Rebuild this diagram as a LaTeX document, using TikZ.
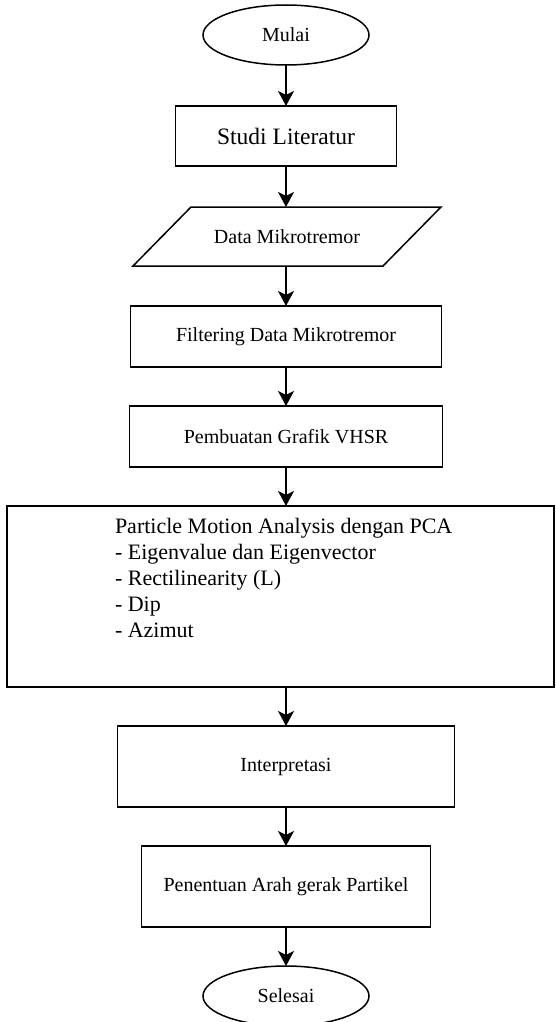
\documentclass[tikz,border=0pt]{standalone}
\usepackage{fontspec}
\setmainfont{Liberation Serif}
\usetikzlibrary{shapes.geometric,arrows.meta}
\begin{document}
\begin{tikzpicture}[x=1pt,y=-1pt,
  every node/.style={inner sep=0pt,outer sep=0pt},
  term/.style={ellipse,draw,line width=1.5pt,minimum width=166pt,minimum height=60pt,font=\fontsize{20}{24}\selectfont},
  procbox/.style={rectangle,draw,line width=1.5pt,font=\fontsize{20}{24}\selectfont},
  iobox/.style={rectangle,draw=none,minimum width=250pt,minimum height=59pt,font=\fontsize{20}{24}\selectfont},
  flow/.style={-{Stealth[length=15pt,width=16pt,inset=4pt]},line width=1.5pt}]
\useasboundingbox (0,0) rectangle (556,1022);
\node[term] (mulai) at (286,35) {Mulai};
\node[procbox,minimum width=221pt,minimum height=60pt,font=\fontsize{23.5}{28}\selectfont] (studi) at (286,136) {Studi Literatur};
\node[iobox] (data) at (287,236.5) {Data Mikrotremor};
\draw[line width=1.5pt] ([xshift=29pt]data.north west) -- ([xshift=29pt]data.north east)
  -- ([xshift=-29pt]data.south east) -- ([xshift=-29pt]data.south west) -- cycle;
\node[procbox,minimum width=311pt,minimum height=61pt] (filter) at (286,336.5) {Filtering Data Mikrotremor};
\node[procbox,minimum width=313pt,minimum height=61pt] (vhsr) at (286,436.5) {Pembuatan Grafik VHSR};
\node[procbox,minimum width=547pt,minimum height=181pt] (pma) at (280.5,596.5) {};
\node[anchor=north west,align=left,font=\fontsize{22}{26}\selectfont] (pmatext) at (115,518) {Particle Motion Analysis dengan PCA\\- Eigenvalue dan Eigenvector\\- Rectilinearity (L)\\- Dip\\- Azimut};
\node[procbox,minimum width=337pt,minimum height=81pt] (interp) at (286,766.5) {Interpretasi};
\node[procbox,minimum width=289pt,minimum height=81pt] (arah) at (286,886.5) {Penentuan Arah gerak Partikel};
\node[term] (selesai) at (286,996) {Selesai};
\draw[flow] (mulai) -- (studi);
\draw[flow] (studi) -- (studi |- data.north);
\draw[flow] (studi |- data.south) -- (filter);
\draw[flow] (filter) -- (vhsr);
\draw[flow] (vhsr) -- (vhsr |- pma.north);
\draw[flow] (vhsr |- pma.south) -- (interp);
\draw[flow] (interp) -- (arah);
\draw[flow] (arah) -- (selesai);
\end{tikzpicture}
\end{document}
